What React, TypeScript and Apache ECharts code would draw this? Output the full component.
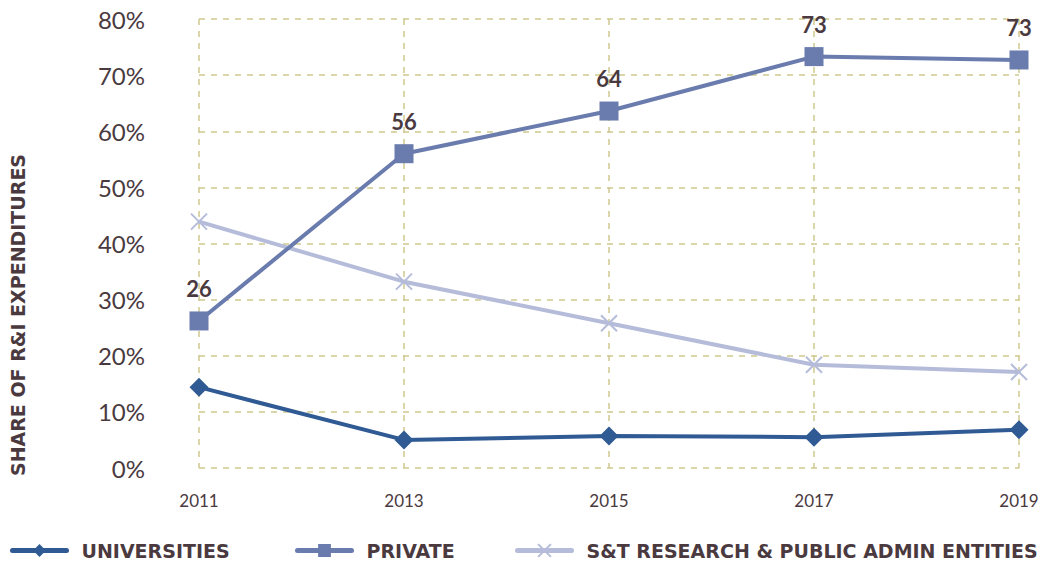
import React, { useEffect, useRef } from "react";
import * as echarts from "echarts";

const years = ["2011", "2013", "2015", "2017", "2019"];
const universities = [14.4, 5.0, 5.7, 5.5, 6.8];
const privateSector = [26.2, 56.0, 63.6, 73.3, 72.7];
const stEntities = [43.9, 33.2, 25.8, 18.4, 17.1];
const privateLabels = ["26", "56", "64", "73", "73"];
const yTicks = [0, 10, 20, 30, 40, 50, 60, 70, 80];
const seriesNames = ["UNIVERSITIES", "PRIVATE", "S&T RESEARCH & PUBLIC ADMIN ENTITIES"];

const TEXT = "#4a3a40";
const GRID = "#d0c88f";
const C_UNI = "#2f5a94";
const C_PRIV = "#6a7bad";
const C_ST = "#b5bcda";
const COLORS = [C_UNI, C_PRIV, C_ST];
const FONT = "Lato, 'Open Sans', sans-serif";
const BOLD = "'DejaVu Sans', sans-serif";

export default function App() {
  const ref = useRef<HTMLDivElement>(null);
  useEffect(() => {
    const chart = echarts.init(ref.current!, null, { renderer: "svg" });
    const legendLefts = [5, 290, 510];
    chart.setOption({
      animation: false,
      textStyle: { fontFamily: FONT },
      grid: { left: 199, right: 27, top: 19, bottom: 95 },
      xAxis: {
        type: "category",
        data: years,
        boundaryGap: false,
        axisLine: { show: false },
        axisTick: { show: false },
        axisLabel: { color: TEXT, fontSize: 17, margin: 24, fontFamily: FONT },
        splitLine: { show: true, lineStyle: { color: GRID, type: [6, 6], width: 1.5 } },
      },
      yAxis: {
        type: "value",
        min: yTicks[0],
        max: yTicks[yTicks.length - 1],
        interval: 10,
        axisLine: { show: false },
        axisTick: { show: false },
        axisLabel: {
          color: TEXT,
          fontSize: 24,
          margin: 54,
          fontFamily: FONT,
          formatter: (v: number) => v + "%",
        },
        splitLine: { show: true, lineStyle: { color: GRID, type: [6, 6], width: 1.5 } },
      },
      legend: seriesNames.map((n, i) => ({
        top: 536,
        left: legendLefts[i],
        itemWidth: 54,
        itemHeight: 16,
        lineStyle: { width: 5, cap: "round", color: COLORS[i] },
        textStyle: {
          color: TEXT,
          fontSize: 19,
          fontWeight: "bold",
          fontFamily: BOLD,
          padding: [0, 0, 0, 10],
        },
        data: [{ name: n }],
      })),
      graphic: [
        {
          type: "text",
          x: 8,
          y: 315,
          rotation: Math.PI / 2,
          style: {
            text: "SHARE OF R&I EXPENDITURES",
            fill: TEXT,
            font: `bold 19px ${BOLD}`,
            align: "center",
            verticalAlign: "top",
          },
        },
      ],
      series: [
        {
          name: seriesNames[2],
          type: "line",
          data: stEntities,
          symbol: "path://M0,0L10,10M10,0L0,10",
          symbolSize: 16,
          lineStyle: { color: C_ST, width: 4 },
          itemStyle: { color: "none", borderColor: C_ST, borderWidth: 2 },
        },
        {
          name: seriesNames[0],
          type: "line",
          data: universities,
          symbol: "diamond",
          symbolSize: 19,
          lineStyle: { color: C_UNI, width: 4 },
          itemStyle: { color: C_UNI },
        },
        {
          name: seriesNames[1],
          type: "line",
          data: privateSector,
          symbol: "rect",
          symbolSize: 19,
          lineStyle: { color: C_PRIV, width: 4 },
          itemStyle: { color: C_PRIV },
          label: {
            show: true,
            position: "top",
            distance: 12,
            color: TEXT,
            fontSize: 22,
            fontWeight: "bold",
            fontFamily: FONT,
            formatter: (p: any) => privateLabels[p.dataIndex],
          },
        },
      ],
    });
    return () => chart.dispose();
  }, []);
  return (
    <div
      ref={ref}
      style={{ position: "absolute", left: 0, top: 0, width: 1046, height: 563 }}
    />
  );
}
